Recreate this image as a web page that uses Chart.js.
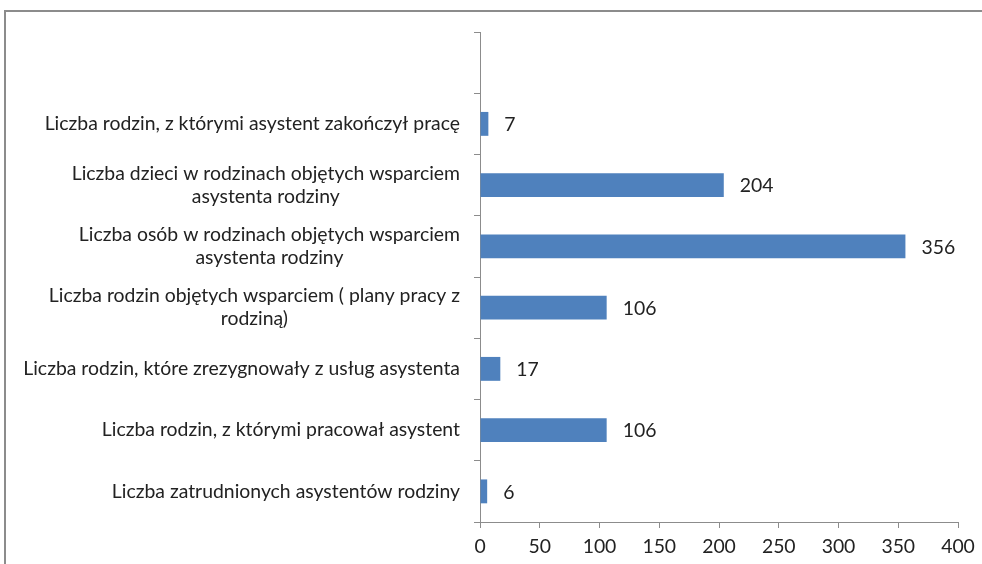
<!DOCTYPE html>
<html>
<head>
<meta charset="utf-8">
<script src="https://cdn.jsdelivr.net/npm/chart.js@4"></script>
<style>
    body { margin: 0; background: #fff; }
    #wrap { position: relative; width: 982px; height: 564px; overflow: hidden; }
    #frame { position: absolute; left: 4px; top: 10px; width: 1100px; height: 700px; border: 2px solid #8c8c8c; }
    canvas { position: absolute; left: 0; top: 0; }
</style>
</head>
<body>
<div id="wrap">
    <div id="frame"></div>
    <canvas id="myChart" width="982" height="564"></canvas>
</div>
<script>
// top slot is empty in the original chart
const categories = [
    '',
    'Liczba rodzin, z którymi asystent zakończył pracę',
    ['Liczba dzieci w rodzinach objętych wsparciem', 'asystenta rodziny'],
    ['Liczba osób w rodzinach objętych wsparciem', 'asystenta rodziny'],
    ['Liczba rodzin objętych wsparciem ( plany pracy z', 'rodziną)'],
    'Liczba rodzin, które zrezygnowały z usług asystenta',
    'Liczba rodzin, z którymi pracował asystent',
    'Liczba zatrudnionych asystentów rodziny'
];
const values = [null, 7, 204, 356, 106, 17, 106, 6];
const xTicks = [0, 50, 100, 150, 200, 250, 300, 350, 400];

const FONT = '19.4px Lato';
const TEXT_COLOR = '#222';

// category labels: block right-aligned, lines centered inside the block
const categoryLabels = {
    id: 'categoryLabels',
    afterDraw: function (chart) {
        const ctx = chart.ctx;
        const yScale = chart.scales.y;
        ctx.save();
        ctx.font = FONT;
        ctx.fillStyle = TEXT_COLOR;
        ctx.textAlign = 'center';
        ctx.textBaseline = 'middle';
        categories.forEach(function (label, i) {
            if (!label) return;
            const lines = Array.isArray(label) ? label : [label];
            const w = Math.max.apply(null, lines.map(function (l) { return ctx.measureText(l).width; }));
            const cx = yScale.right - 20 - w / 2;
            const cy = yScale.getPixelForValue(i);
            lines.forEach(function (l, j) {
                ctx.fillText(l, cx, cy + (j - (lines.length - 1) / 2) * 23);
            });
        });

        // value labels next to bars
        ctx.textAlign = 'left';
        const meta = chart.getDatasetMeta(0);
        meta.data.forEach(function (bar, i) {
            if (values[i] === null) return;
            ctx.fillText(String(values[i]), bar.x + 16, bar.y + 1);
        });
        ctx.restore();
    }
};

const ctx = document.getElementById('myChart');

new Chart(ctx, {
    type: 'bar',
    data: {
        labels: categories,
        datasets: [{
            data: values,
            backgroundColor: '#4f81bd',
            borderWidth: 0,
            barPercentage: 0.39,
            categoryPercentage: 1
        }]
    },
    options: {
        responsive: false,
        animation: false,
        indexAxis: 'y',
        layout: { padding: { top: 32, right: 24, left: 0, bottom: 0 } },
        plugins: {
            legend: { display: false },
            tooltip: { enabled: false }
        },
        scales: {
            x: {
                min: 0,
                max: 400,
                afterBuildTicks: function (axis) {
                    axis.ticks = xTicks.map(function (v) { return { value: v }; });
                },
                afterFit: function (scale) { scale.height = 42; },
                grid: { drawOnChartArea: false, tickLength: 6, color: '#8c8c8c' },
                border: { color: '#8c8c8c' },
                ticks: { font: { family: 'Lato', size: 19.4 }, color: TEXT_COLOR, padding: 7, maxRotation: 0 }
            },
            y: {
                afterFit: function (scale) { scale.width = 480; },
                grid: { offset: true, drawOnChartArea: false, tickLength: 6, color: '#8c8c8c' },
                border: { color: '#8c8c8c' },
                ticks: { display: false }
            }
        }
    },
    plugins: [categoryLabels]
});
</script>
</body>
</html>
